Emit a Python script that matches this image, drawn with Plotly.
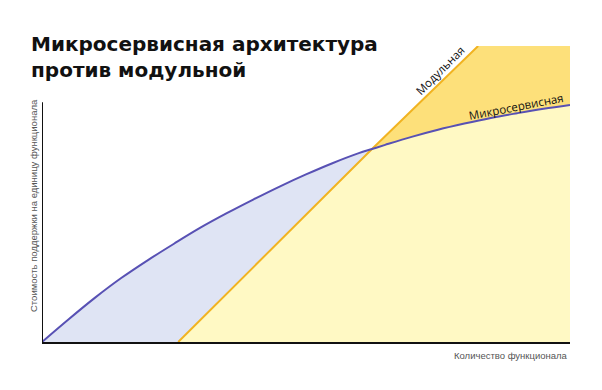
import numpy as np
import plotly.graph_objects as go

# ---- data ----
feature_x = [0, 5, 10, 15, 20, 25, 30, 35, 40, 45, 50, 55, 60, 62.5, 65, 70, 75, 80, 85, 90, 95, 100]
micro_cost = [0, 7.6, 14.9, 21.6, 27.6, 33.2, 38.6, 43.5, 48.1, 52.5, 56.6, 60.4, 63.8, 65.2,
              66.6, 69.3, 71.7, 73.8, 75.7, 77.3, 78.8, 80.1]
modular_x = [25.8, 62.5, 82.6]
modular_cost = [0, 65.2, 100]
crossing_x = 62.5

title_line1 = "Микросервисная архитектура"
title_line2 = "против модульной"
y_title = "Стоимость поддержки на единицу функционала"
x_title = "Количество функционала"
label_micro = "Микросервисная"
label_mod = "Модульная"

LAVENDER = "#dfe4f4"
LIGHT_Y = "#fff9c4"
DARK_Y = "#fde07a"
MICRO_C = "#5851b4"
MOD_C = "#f1b321"

fx = np.array(feature_x)
my = np.array(micro_cost)
x_max = fx.max()
y_top = 100

fig = go.Figure()
# lavender: under microservice curve
fig.add_trace(go.Scatter(x=feature_x, y=micro_cost, mode="none", fill="tozeroy",
                         fillcolor=LAVENDER, hoverinfo="skip", showlegend=False))
# dark yellow: under modular line (capped at the top of the plot)
fig.add_trace(go.Scatter(x=modular_x + [x_max, x_max, modular_x[0]],
                         y=modular_cost + [y_top, 0, 0], mode="none", fill="toself",
                         fillcolor=DARK_Y, hoverinfo="skip", showlegend=False))
# light yellow: under both
mask = fx >= crossing_x
poly_x = [modular_x[0]] + list(fx[mask]) + [x_max, modular_x[0]]
poly_y = [0] + list(my[mask]) + [0, 0]
fig.add_trace(go.Scatter(x=poly_x, y=poly_y, mode="none", fill="toself",
                         fillcolor=LIGHT_Y, hoverinfo="skip", showlegend=False))
# lines
fig.add_trace(go.Scatter(x=modular_x, y=modular_cost, mode="lines",
                         line=dict(color=MOD_C, width=2), showlegend=False))
fig.add_trace(go.Scatter(x=feature_x, y=micro_cost, mode="lines", line_shape="spline",
                         line=dict(color=MICRO_C, width=2), showlegend=False))

fig.add_shape(type="line", xref="x", yref="y", x0=0, x1=0, y0=0, y1=81,
              line=dict(color="#111111", width=2))

PW, PH = 528, 296  # plot area size in px


def px(xp):
    return (xp - 42) / PW


def py(yp):
    return (342 - yp) / PH


title_font = dict(family="DejaVu Sans", size=20, color="#111111", weight="bold")
ann = [
    dict(text=title_line1, xref="paper", yref="paper", x=px(29), y=py(44),
         xanchor="left", yanchor="middle", align="left", showarrow=False, font=title_font),
    dict(text=title_line2, xref="paper", yref="paper", x=px(29), y=py(70),
         xanchor="left", yanchor="middle", align="left", showarrow=False, font=title_font),
    dict(text=y_title, xref="paper", yref="paper", x=px(33), y=py(206), textangle=-90,
         xanchor="center", yanchor="middle", showarrow=False,
         font=dict(family="Liberation Sans", size=9.5, color="#555555")),
    dict(text=x_title, xref="paper", yref="paper", x=1, y=py(348),
         xanchor="right", yanchor="top", showarrow=False,
         font=dict(family="Liberation Sans", size=9.5, color="#555555")),
    dict(text=label_mod, xref="paper", yref="paper", x=px(440), y=py(71),
         xanchor="center", yanchor="middle", textangle=-45, showarrow=False,
         font=dict(family="Open Sans", size=11.5, color="#111111")),
    dict(text=label_micro, xref="paper", yref="paper", x=px(516), y=py(106),
         xanchor="center", yanchor="middle", textangle=-11, showarrow=False,
         font=dict(family="Open Sans", size=11.5, color="#111111")),
]

fig.update_layout(
    width=586, height=374,
    margin=dict(l=34, r=24, t=38, b=40),
    paper_bgcolor="white", plot_bgcolor="white",
    xaxis=dict(range=[0, 100], showgrid=False, zeroline=False, showticklabels=False,
               ticks="", showline=True, linecolor="#111111", linewidth=2),
    yaxis=dict(range=[0, 100], showgrid=False, zeroline=False, showticklabels=False,
               ticks="", showline=False),
    annotations=ann,
)

fig.write_html("out.html")
